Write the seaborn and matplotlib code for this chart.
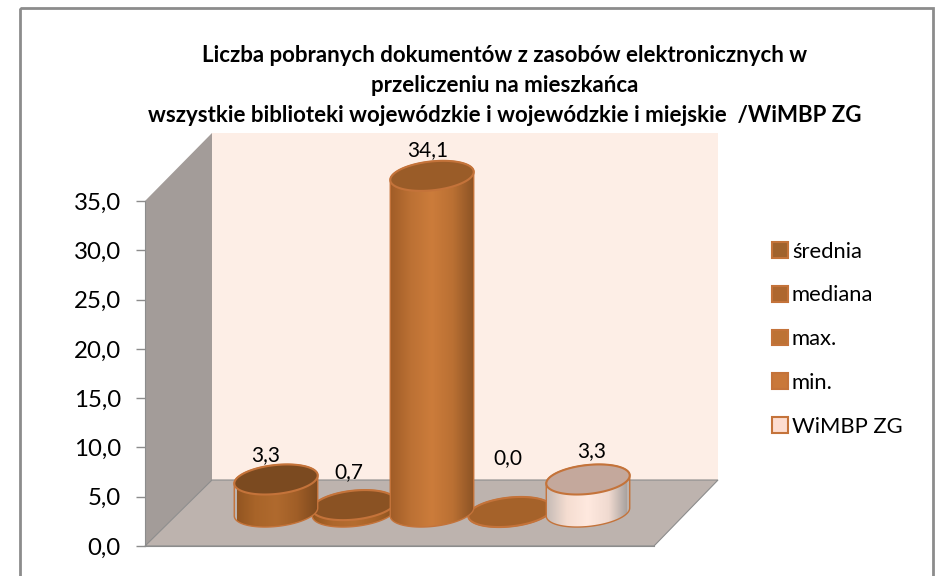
import numpy as np
import pandas as pd
import matplotlib
matplotlib.use('Agg')
import matplotlib.pyplot as plt
import seaborn as sns
from matplotlib.colors import LinearSegmentedColormap
from matplotlib.patches import Polygon, Rectangle
from matplotlib.transforms import Affine2D, IdentityTransform

categories = ['średnia', 'mediana', 'max.', 'min.', 'WiMBP ZG']
values = [3.3, 0.7, 34.1, 0.0, 3.3]
yticks = [0, 5, 10, 15, 20, 25, 30, 35]
title = ('Liczba pobranych dokumentów z zasobów elektronicznych w\n'
         'przeliczeniu na mieszkańca\n'
         'wszystkie biblioteki wojewódzkie i wojewódzkie i miejskie  /WiMBP ZG')

legend_colors = ['#A0622D', '#AE672F', '#BD7235', '#C9783A', '#FDDDD0']
top_colors = ['#7B4A20', '#8A5223', '#9A5C28', '#A5622A', '#C4A89C']
body_colors = [
    ['#8F5320', '#A86429', '#B06A2E', '#A05E27', '#7E4A1E'],
    ['#94571F', '#AE672C', '#B56D30', '#A86328', '#8A5220'],
    ['#A05C27', '#BC7134', '#CC7C3B', '#BA7033', '#8C5325'],
    ['#A5622A', '#A5622A', '#A5622A', '#A5622A', '#A5622A'],
    ['#C4BAB5', '#F5DDD1', '#FFE9DF', '#F0DAD0', '#9E9A98'],
]
# small cylinders go behind their neighbours, like in the original
bar_z = [3, 2, 3, 2, 3]
label_shift = [(-10, 24), (-5, 33), (-4, 26), (-2, 54), (4, 28)]

W, H = 941, 576
EDGE = '#C4733A'
GREY = '#8C8C8C'

plt.rcParams['font.family'] = ['Lato', 'DejaVu Sans']
fig = plt.figure(figsize=(W / 100, H / 100), dpi=100, facecolor='white')
# pixel coords with origin top left, for the 3D box behind the chart
px = Affine2D().scale(1, -1).translate(0, H)


def axes_at(left, top, right, bottom):
    return fig.add_axes([left / W, (H - bottom) / H, (right - left) / W, (bottom - top) / H])


fig.add_artist(Rectangle((20, 8), 913, 580, transform=px, fill=False, edgecolor=GREY, lw=2, zorder=-3))
fig.add_artist(Polygon([(212, 133), (718, 133), (718, 480), (212, 480)], transform=px,
                       facecolor='#FDEEE6', edgecolor='none', zorder=-3))
fig.add_artist(Polygon([(145, 201), (212, 133), (212, 480), (145, 546)], transform=px,
                       facecolor='#A39C99', edgecolor='none', zorder=-3))
fig.add_artist(Polygon([(145, 546), (212, 480), (718, 480), (654, 546)], transform=px,
                       facecolor='#BDB3AE', edgecolor=GREY, lw=0.8, zorder=-3))

# front axis with the tick labels
ax = axes_at(145, 201, 654, 546)
ax.patch.set_alpha(0)
ax.set_ylim(0, 35)
ax.set_yticks(yticks)
ax.set_yticklabels([f'{v:.1f}'.replace('.', ',') for v in yticks], fontsize=17.3)
ax.set_xticks([])
ax.tick_params(axis='y', length=6.5, width=1, color=GREY, pad=11, labelcolor='black')
sns.despine(ax=ax)
ax.spines['left'].set_color(GREY)
ax.spines['bottom'].set_color(GREY)

# cylinders sit in the middle of the floor, room below zero for the rounded base
ax2 = axes_at(237, 167, 627, 546.5)
ax2.patch.set_alpha(0)
df = pd.DataFrame({'kategoria': categories, 'wartosc': values})
sns.barplot(data=df, x='kategoria', y='wartosc', hue='kategoria', palette=legend_colors, saturation=1,
            dodge=False, width=1.07, edgecolor=EDGE, linewidth=1.5, ax=ax2, zorder=2, legend=True)
ax2.set_xlim(-0.5, 4.5)
ax2.set_ylim(-3.5, 35)
ax2.axis('off')

HALF_H, SHEAR = 14.5, 4.0
t_low = np.linspace(np.pi, 2 * np.pi, 80)
t_up = np.linspace(0, np.pi, 80)
t_all = np.linspace(0, 2 * np.pi, 160)


def arc(cx, cy, a, t):
    return np.column_stack([cx + a * np.cos(t), cy + HALF_H * np.sin(t) + SHEAR * np.cos(t)])


for i, (bar, val) in enumerate(zip(list(ax2.patches), values)):
    x0, x1 = bar.get_x(), bar.get_x() + bar.get_width()
    (left, base), (right, top) = ax2.transData.transform([(x0, 0), (x1, val)])
    cx, a = (left + right) / 2, (right - left) / 2
    z = bar_z[i]
    outline = np.vstack([arc(cx, base, a, t_low), arc(cx, top, a, t_up)])
    body = Polygon(outline, closed=True, transform=IdentityTransform(), facecolor='none',
                   edgecolor=EDGE, lw=1, zorder=z + 0.2, clip_on=False)
    shade = Polygon(outline, closed=True, transform=IdentityTransform(), facecolor='none',
                    edgecolor='none', zorder=z)
    ax2.add_patch(shade)
    ax2.add_patch(body)
    bar.set_zorder(z)
    bar.set_linewidth(0)
    bar.set_clip_path(shade)
    cmap = LinearSegmentedColormap.from_list(f'c{i}', body_colors[i])
    img = ax2.imshow(np.linspace(0, 1, 256)[None, :], cmap=cmap, aspect='auto',
                     extent=(x0, x1, -3.5, val + 3), zorder=z + 0.1)
    img.set_clip_path(shade)
    ax2.add_patch(Polygon(arc(cx, top, a, t_all), closed=True, transform=IdentityTransform(),
                          facecolor=top_colors[i], edgecolor=EDGE, lw=1.5,
                          zorder=z + 0.3, clip_on=False))
    dx, dy = label_shift[i]
    ax2.annotate(f'{val:.1f}'.replace('.', ','), xy=(i, val), xytext=(dx, dy),
                 textcoords='offset pixels', ha='center', va='center', fontsize=15,
                 color='black', zorder=6, annotation_clip=False)

ax2.set_xlim(-0.5, 4.5)
ax2.set_ylim(-3.5, 35)

sns.move_legend(ax2, 'upper left', bbox_to_anchor=(752 / W, (H - 222) / H),
                bbox_transform=fig.transFigure, title=None, frameon=False, fontsize=15.8,
                labelspacing=1.08, handlelength=0.72, handleheight=0.72, handletextpad=0.2)

fig.text(505 / W, (H - 85.5) / H, title, ha='center', va='center', fontsize=16,
         fontweight='bold', linespacing=1.52, color='black')

fig.savefig('out.png', dpi=100)
plt.close(fig)
